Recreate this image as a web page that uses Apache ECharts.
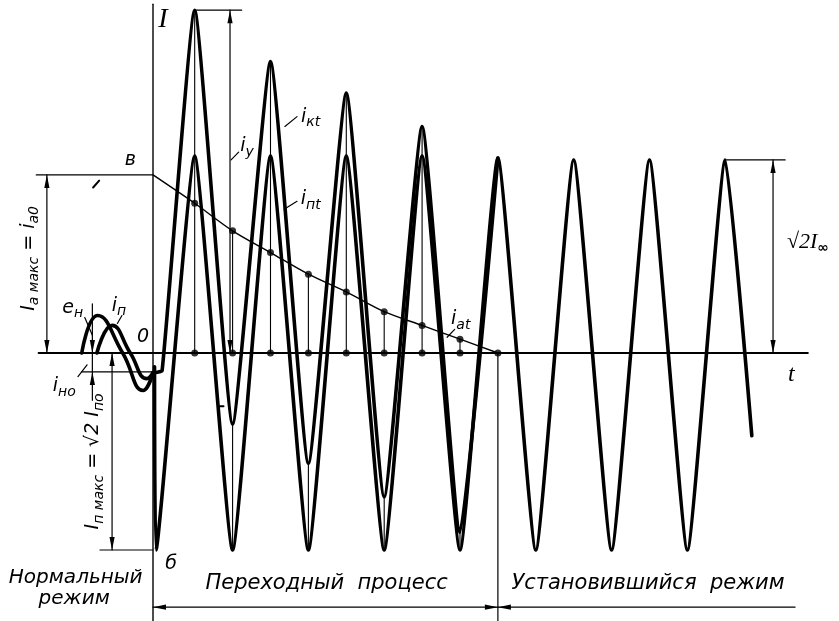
<!DOCTYPE html>
<html>
<head>
<meta charset="utf-8">
<title>Ток короткого замыкания</title>
<script src="https://cdn.jsdelivr.net/npm/echarts@6/dist/echarts.min.js"></script>
<style>
	html, body { margin: 0; padding: 0; background: #ffffff; }
	#main { width: 839px; height: 621px; }
</style>
</head>
<body>
<div id="main"></div>
<script>
	// t - время в периодах (0 - момент КЗ), ток - в долях амплитуды периодической составляющей
	const intPoints = [[0.02,-0.07],[0.04,-1.0],[0.55,1.0],[1.05,-1.0],[1.55,1.0],[2.05,-1.0],[2.55,1.0],[3.05,-1.0],[3.55,1.0],[4.05,-1.0],
		[4.55,0.99],[5.05,-1.0],[5.55,0.98],[6.05,-1.0],[6.55,0.98],[7.05,-1.0],[7.55,0.98],[7.9,-0.42]]
	const iktPoints = [[0,-0.1],[0.12,-0.09],[0.55,1.74],[1.05,-0.36],[1.55,1.48],[2.05,-0.56],[2.55,1.32],[3.05,-0.73],[3.55,1.15],[4.05,-0.91],[4.55,0.99]]
	const iatPoints = [[0,0.904],[0.55,0.76],[1.05,0.62],[1.55,0.51],[2.05,0.40],[2.55,0.31],[3.05,0.21],[3.55,0.14],[4.05,0.07],[4.55,0]]
	const enPoints = [[-0.94,0],[-0.73,0.19],[-0.4,0],[-0.13,-0.19],[0,-0.1]]
	const inPoints = [[-0.74,0],[-0.54,0.14],[-0.3,0],[-0.08,-0.13],[0,-0.1]]

	// размерные линии: t1, v1, t2, v2, стрелка в начале, стрелка в конце, толщина
	const dimLines = [
		[-1.51,0,8.64,0,0,0,1.8],        // ось t
		[0,1.77,0,-1.36,0,0,1.4],         // ось I
		[-1.40,0.904,-1.40,0,1,1,1.2],    // Ia макс
		[-1.54,0.904,0,0.904,0,0,1.2],
		[1.016,1.74,1.016,0,1,1,1.2],     // iу
		[0.55,1.74,1.17,1.74,0,0,1.2],
		[8.18,0.98,8.18,0,1,1,1.2],       // √2 I∞
		[7.55,0.98,8.34,0.98,0,0,1.2],
		[-0.80,0.25,-0.80,0,0,1,1.2],     // iно
		[-0.80,-0.24,-0.80,-0.096,0,1,1.2],
		[-0.80,0,-0.80,-0.096,0,0,1.2],
		[-0.94,-0.096,0,-0.096,0,0,1.2],
		[-0.54,0,-0.54,-1.0,1,1,1.2],     // Iп макс
		[-0.70,-1.0,0,-1.0,0,0,1.2],
		[4.55,0,4.55,-1.36,0,0,1.2],      // граница режимов
		[0,-1.29,4.55,-1.29,1,1,1.2],
		[4.55,-1.29,8.47,-1.29,1,0,1.2],
		// выноски
		[1.13,1.02,1.03,0.98,0,0,1.2],
		[1.90,1.20,1.74,1.15,0,0,1.2],
		[1.90,0.77,1.73,0.73,0,0,1.2],
		[3.98,0.12,3.88,0.08,0,0,1.2],
		[-0.90,0.18,-0.80,0.09,0,0,1.2],
		[-0.41,0.19,-0.47,0.15,0,0,1.2],
		[-0.99,-0.12,-0.87,-0.06,0,0,1.2],
		[-0.71,0.875,-0.79,0.84,0,0,2],
		[0.86,-0.27,0.93,-0.27,0,0,2]
	]

	const labelAt = [[0.13,1.69],[8.42,-0.11],[-0.13,0.08],[-0.30,0.98],[0.24,-1.07],[1.24,1.05],[2.08,1.20],[2.08,0.78],[4.06,0.17],
		[-1.06,0.23],[-0.45,0.24],[-1.17,-0.17],[8.64,0.56],[-1.64,0.48],[-0.79,-0.55],[-1.02,-1.14],[-1.04,-1.25],[2.29,-1.17],[6.53,-1.17]]
	const labelText = ['{ser|I}','{ser2|t}','{m|0}','{m|в}','{m|б}','{m|i}{s|у}','{m|i}{s|кt}','{m|i}{s|пt}','{m|i}{s|at}',
		'{m|e}{s|н}','{m|i}{s|п}','{m|i}{s|но}','{ser3|√2I}{rs|∞}','{m|I}{s|a макс}{m| = i}{s|a0}','{m|I}{s|п макс}{m| = √2 I}{s|по}',
		'{w|Нормальный}','{w|режим}','{w2|Переходный  процесс}','{w2|Установившийся  режим}']
	const labelRot = [0,0,0,0,0,0,0,0,0,0,0,0,0,90,90,0,0,0,0]

	const rich = {
		m: { fontFamily: 'DejaVu Sans', fontStyle: 'italic', fontSize: 19, lineHeight: 26 },
		s: { fontFamily: 'DejaVu Sans', fontStyle: 'italic', fontSize: 14, lineHeight: 14, verticalAlign: 'bottom' },
		w: { fontFamily: 'DejaVu Sans', fontStyle: 'italic', fontSize: 20 },
		w2: { fontFamily: 'DejaVu Sans', fontStyle: 'italic', fontSize: 21 },
		ser: { fontFamily: 'Liberation Serif', fontStyle: 'italic', fontSize: 28 },
		ser2: { fontFamily: 'Liberation Serif', fontStyle: 'italic', fontSize: 24 },
		ser3: { fontFamily: 'Liberation Serif', fontStyle: 'italic', fontSize: 22, lineHeight: 26 },
		rs: { fontFamily: 'DejaVu Sans', fontWeight: 'bold', fontSize: 14, lineHeight: 14, verticalAlign: 'bottom' }
	}

	function arrowHead(tip, ux, uy){
		const L = 13, W = 2.6
		return {
			type: 'polygon',
			shape: { points: [[tip[0], tip[1]], [tip[0] + ux * L - uy * W, tip[1] + uy * L + ux * W], [tip[0] + ux * L + uy * W, tip[1] + uy * L - ux * W]] },
			style: { fill: '#000' }
		}
	}

	function renderDim(params, api){
		const p1 = api.coord([api.value(0), api.value(1)])
		const p2 = api.coord([api.value(2), api.value(3)])
		const children = [{
			type: 'line',
			shape: { x1: p1[0], y1: p1[1], x2: p2[0], y2: p2[1] },
			style: { stroke: '#000', lineWidth: api.value(6), lineCap: 'round' }
		}]
		const dx = p2[0] - p1[0], dy = p2[1] - p1[1]
		const len = Math.sqrt(dx * dx + dy * dy)
		const ux = dx / len, uy = dy / len
		if (api.value(4)) children.push(arrowHead(p1, ux, uy))
		if (api.value(5)) children.push(arrowHead(p2, -ux, -uy))
		return { type: 'group', children: children }
	}

	function renderLabel(params, api){
		const i = params.dataIndex
		const p = api.coord([api.value(0), api.value(1)])
		return {
			type: 'text',
			x: p[0],
			y: p[1],
			rotation: labelRot[i] * Math.PI / 180,
			style: { x: 0, y: 0, text: labelText[i], rich: rich, fill: '#000', align: 'center', verticalAlign: 'middle' }
		}
	}

	// вертикальные линии в пиках и впадинах
	const stems = []
	for (let k = 2; k < iktPoints.length - 1; k++) {
		const t = iktPoints[k][0]
		if (iktPoints[k][1] > 0) {
			stems.push([t, 0, t, iktPoints[k][1], 0, 0, 1.1])
		} else {
			stems.push([t, iatPoints[k - 1][1], t, 0, 0, 0, 1.1])
			stems.push([t, iktPoints[k][1], t, intPoints[k][1], 0, 0, 1.1])
		}
	}
	const dots = iatPoints.slice(1, 9).concat(iatPoints.slice(1).map(function(p){ return [p[0], 0] }))

	const wave = { color: '#000', width: 3.6, cap: 'round', join: 'round' }

	let mychart = echarts.init(document.getElementById('main'))
	let option = {
		animation: false,
		backgroundColor: '#fff',
		grid: { left: 0, right: 0, top: 0, bottom: 0 },
		xAxis: { type: 'value', min: -2.0185, max: 9.0501, show: false },
		yAxis: { type: 'value', min: -1.3604, max: 1.7919, show: false },
		series: [
			{ type: 'custom', renderItem: renderDim, data: dimLines.concat(stems), silent: true, z: 1 },
			{ type: 'line', data: iatPoints, smooth: 0.3, showSymbol: false, lineStyle: { color: '#000', width: 1.4 }, z: 2 },
			{ type: 'scatter', data: dots, symbolSize: 7, itemStyle: { color: '#000' }, z: 3 },
			{ type: 'line', data: intPoints, smooth: 0.14, showSymbol: false, lineStyle: wave, z: 4 },
			{ type: 'line', data: iktPoints, smooth: 0.14, showSymbol: false, lineStyle: wave, z: 4 },
			{ type: 'line', data: enPoints, smooth: 0.5, showSymbol: false, lineStyle: wave, z: 4 },
			{ type: 'line', data: inPoints, smooth: 0.5, showSymbol: false, lineStyle: wave, z: 4 },
			{ type: 'custom', renderItem: renderLabel, data: labelAt, silent: true, z: 5 }
		]
	}
	mychart.setOption(option)
</script>
</body>
</html>
